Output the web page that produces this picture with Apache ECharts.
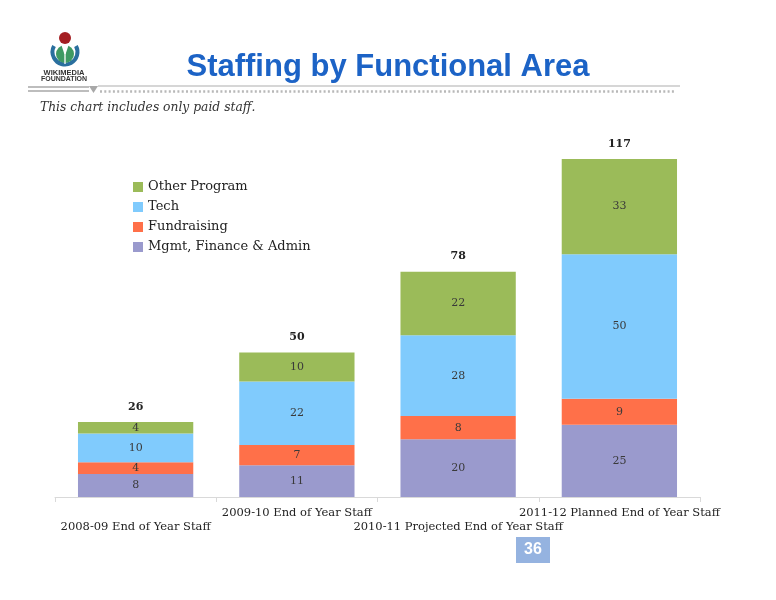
<!DOCTYPE html>
<html>
<head>
<meta charset="utf-8">
<script src="https://cdn.jsdelivr.net/npm/echarts@6/dist/echarts.min.js"></script>
<style>
html,body{margin:0;padding:0;background:#fff;}
#main{width:776px;height:600px;}
</style>
</head>
<body>
<div id="main"></div>
<script>
var categories = ['2008-09 End of Year Staff', '2009-10 End of Year Staff', '2010-11 Projected End of Year Staff', '2011-12 Planned End of Year Staff'];
var mgmt = [8, 11, 20, 25];
var fundraising = [4, 7, 8, 9];
var tech = [10, 22, 28, 50];
var otherProgram = [4, 10, 22, 33];
var totals = [26, 50, 78, 117];
var seriesNames = ['Mgmt, Finance & Admin', 'Fundraising', 'Tech', 'Other Program'];

var serif = '"DejaVu Serif", Georgia, serif';
var colors = ['#9A9ACD', '#FF7049', '#80CBFD', '#9BBB59'];
var seriesData = [mgmt, fundraising, tech, otherProgram];

var chart = echarts.init(document.getElementById('main'), null, {renderer: 'canvas'});

var series = seriesData.map(function (d, i) {
  return {
    name: seriesNames[i],
    type: 'bar',
    stack: 'staff',
    barCategoryGap: '28.5%',
    data: d,
    itemStyle: {color: colors[i]},
    label: {
      show: true,
      position: 'inside',
      color: '#3a3a3a',
      fontFamily: serif,
      fontSize: 11
    }
  };
});
series.push({
  name: 'Total',
  type: 'line',
  data: totals,
  symbol: 'circle',
  symbolSize: 1,
  showSymbol: true,
  itemStyle: {color: 'rgba(0,0,0,0)'},
  lineStyle: {opacity: 0},
  silent: true,
  label: {
    show: true,
    position: 'top',
    distance: 9,
    color: '#222',
    fontFamily: serif,
    fontWeight: 'bold',
    fontSize: 11
  }
});

var option = {
  backgroundColor: '#fff',
  animation: false,
  title: {
    text: 'Staffing by Functional Area',
    left: 'center',
    top: 47,
    textStyle: {
      fontFamily: '"Liberation Sans", Arial, sans-serif',
      fontWeight: 'bold',
      fontSize: 31,
      color: '#1C63C6'
    }
  },
  legend: {
    data: ['Other Program', 'Tech', 'Fundraising', 'Mgmt, Finance & Admin'],
    orient: 'vertical',
    left: 128,
    top: 175,
    icon: 'rect',
    itemWidth: 10,
    itemHeight: 10,
    itemGap: 6,
    textStyle: {fontFamily: serif, fontSize: 13, color: '#222', lineHeight: 14}
  },
  grid: {left: 55, right: 76, top: 92.5, bottom: 103},
  xAxis: {
    type: 'category',
    data: categories,
    axisLine: {lineStyle: {color: '#D9D9D9'}},
    axisTick: {show: true, length: 5, lineStyle: {color: '#D9D9D9'}},
    axisLabel: {
      interval: 0,
      margin: 9,
      color: '#222',
      fontFamily: serif,
      fontSize: 11.5,
      lineHeight: 14,
      formatter: function (v, i) { return i % 2 === 0 ? '\n' + v : v; }
    }
  },
  yAxis: {
    type: 'value',
    min: 0,
    max: 140,
    show: false,
    splitLine: {show: false}
  },
  graphic: [
    // logo
    {type: 'arc', shape: {cx: 65, cy: 52, r: 12.5, startAngle: -0.5, endAngle: Math.PI + 0.5, clockwise: true}, style: {stroke: '#2A6F9E', lineWidth: 4, fill: null}},
    {type: 'circle', shape: {cx: 65, cy: 54, r: 9}, style: {fill: '#3F9A62'}},
    {type: 'polygon', shape: {points: [[61, 44], [69, 44], [65.6, 54], [64.4, 54]]}, style: {fill: '#fff'}},
    {type: 'line', shape: {x1: 65, y1: 50, x2: 65, y2: 64}, style: {stroke: '#fff', lineWidth: 1.3}},
    {type: 'circle', shape: {cx: 65, cy: 38, r: 6}, style: {fill: '#A41E22'}},
    {type: 'text', x: 64, y: 73, style: {text: 'WIKIMEDIA', align: 'center', verticalAlign: 'middle', fontFamily: '"Liberation Sans", Arial, sans-serif', fontWeight: 'bold', fontSize: 7.5, fill: '#333'}},
    {type: 'text', x: 64, y: 79.5, style: {text: 'FOUNDATION', align: 'center', verticalAlign: 'middle', fontFamily: '"Liberation Sans", Arial, sans-serif', fontWeight: 'bold', fontSize: 7, fill: '#333'}},
    // rule under title
    {type: 'line', shape: {x1: 28, y1: 87, x2: 89, y2: 87}, style: {stroke: '#BDBDBD', lineWidth: 2}},
    {type: 'line', shape: {x1: 28, y1: 91, x2: 89, y2: 91}, style: {stroke: '#BDBDBD', lineWidth: 2}},
    {type: 'polygon', shape: {points: [[89, 86], [98, 86], [93.5, 93]]}, style: {fill: '#A8A8A8'}},
    {type: 'line', shape: {x1: 98, y1: 86, x2: 680, y2: 86}, style: {stroke: '#C8C8C8', lineWidth: 1.5}},
    {type: 'line', shape: {x1: 100, y1: 91.5, x2: 676, y2: 91.5}, style: {stroke: '#B8B8B8', lineWidth: 2.5, lineDash: [2, 2.3]}},
    // subtitle
    {type: 'text', left: 40, top: 102, style: {text: 'This chart includes only paid staff.', fontFamily: serif, fontStyle: 'italic', fontSize: 12.3, fill: '#333'}},
    // page number
    {type: 'rect', shape: {x: 516, y: 537, width: 34, height: 26}, style: {fill: '#95B3E0'}},
    {type: 'text', x: 533, y: 550, style: {text: '36', align: 'center', verticalAlign: 'middle', fontFamily: '"Liberation Sans", Arial, sans-serif', fontWeight: 'bold', fontSize: 16, fill: '#fff'}}
  ],
  series: series
};
chart.setOption(option);
</script>
</body>
</html>
